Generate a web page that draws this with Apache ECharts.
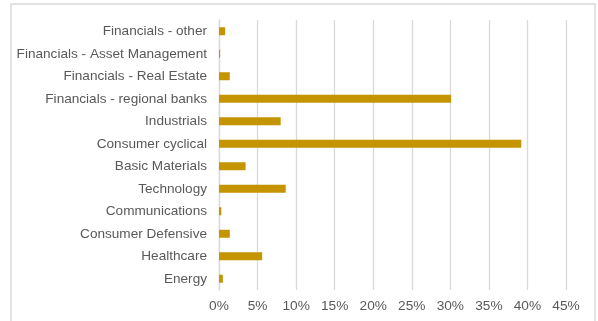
<!DOCTYPE html>
<html>
<head>
<meta charset="utf-8">
<script src="https://cdn.jsdelivr.net/npm/echarts@6/dist/echarts.min.js"></script>
<style>html,body{margin:0;padding:0;background:#fff;}#c{width:598px;height:321px;}</style>
</head>
<body>
<div id="c"></div>
<script>
const categories = ["Financials - other","Financials - Asset Management","Financials - Real Estate","Financials - regional banks","Industrials","Consumer cyclical","Basic Materials","Technology","Communications","Consumer Defensive","Healthcare","Energy"];
const values = [0.8, 0.15, 1.4, 30.1, 8.0, 39.2, 3.45, 8.65, 0.3, 1.4, 5.6, 0.5];
const xTicks = {min: 0, max: 45, interval: 5};

const chart = echarts.init(document.getElementById('c'), null, {renderer: 'canvas'});
chart.setOption({
  animation: false,
  graphic: [{type: 'rect', shape: {x: 11, y: 4, width: 584, height: 330}, style: {fill: 'none', stroke: '#d9d9d9', lineWidth: 1.5}, z: -1}],
  grid: {left: 219, right: 32, top: 20, bottom: 31, containLabel: false},
  xAxis: {
    type: 'value', min: xTicks.min, max: xTicks.max, interval: xTicks.interval,
    axisLabel: {formatter: '{value}%', color: '#595959', fontSize: 13.7, fontFamily: 'Liberation Sans, Arial', margin: 9},
    splitLine: {show: true, lineStyle: {color: '#d9d9d9', width: 1.3}},
    axisLine: {show: false}, axisTick: {show: false}
  },
  yAxis: {
    type: 'category', data: categories, inverse: true,
    axisLabel: {color: '#595959', fontSize: 13.6, fontFamily: 'Liberation Sans, Arial', margin: 12},
    axisLine: {show: true, lineStyle: {color: '#d9d9d9', width: 1.3}},
    axisTick: {show: false}
  },
  series: [{type: 'bar', data: values, barWidth: 8, itemStyle: {color: '#c49500'}}]
});
</script>
</body>
</html>
